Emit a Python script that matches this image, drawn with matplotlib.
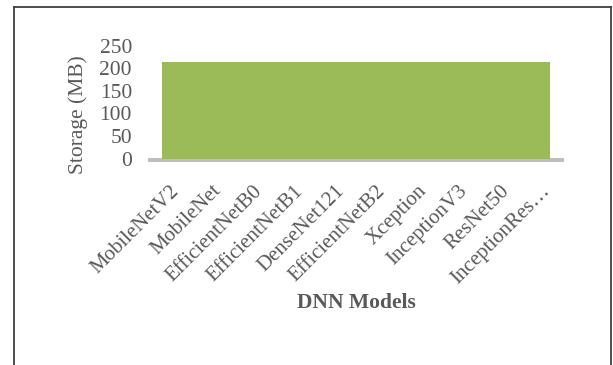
import matplotlib
matplotlib.use("Agg")
import matplotlib.pyplot as plt
import numpy as np
from matplotlib.lines import Line2D

# Model names on the category axis and their storage footprint (MB)
models = ["MobileNetV2", "MobileNet", "EfficientNetB0", "EfficientNetB1",
          "DenseNet121", "EfficientNetB2", "Xception", "InceptionV3",
          "ResNet50", "InceptionRes…"]
storage_mb = [213, 213, 213, 213, 213, 213, 213, 213, 213, 213]
y_ticks = [0, 50, 100, 150, 200, 250]

W, H = 613, 365
plt.rcParams["font.family"] = ["Liberation Serif", "DejaVu Serif"]
text_color = "#595959"
bar_color = "#9BBB59"
fs = 15.5

fig = plt.figure(figsize=(W / 100, H / 100), dpi=100)
fig.patch.set_facecolor("white")

# plot area in pixel terms
left, right = 150, 562
y_zero, y_top = 158.5, 45.5
ax = fig.add_axes([left / W, (H - y_zero) / H, (right - left) / W, (y_zero - y_top) / H])

n = len(models)
pos = np.arange(n)
ax.bar(pos, storage_mb, width=1.0, color=bar_color, linewidth=0, zorder=2)
ax.set_xlim(-0.8, n - 1 + 0.8)
ax.set_ylim(0, 250)

# spines first: repositioning a spine resets the axis ticks
for s in ("top", "right", "left"):
    ax.spines[s].set_visible(False)
ax.spines["bottom"].set_position(("outward", 1.4))
ax.spines["bottom"].set_color("#BFBFBF")
ax.spines["bottom"].set_linewidth(2.9)
ax.spines["bottom"].set_zorder(1)

ax.tick_params(axis="both", length=0)
ax.tick_params(axis="x", pad=20)
ax.tick_params(axis="y", pad=13)

# category labels spread evenly across the axis length,
# nudged a few pixels right so the rotated text ends past the slot centre
lo, hi = ax.get_xlim()
units_per_px = (hi - lo) / (right - left)
tick_pos = lo + (np.arange(n) + 0.5) * (hi - lo) / n + 6 * units_per_px
ax.set_xticks(tick_pos)
ax.set_xticklabels(models, fontsize=15, color=text_color, rotation=45,
                   ha="right", va="center", rotation_mode="anchor")
ax.set_yticks(y_ticks)
ax.set_yticklabels([str(v) for v in y_ticks], fontsize=fs, color=text_color)

ax.set_ylabel("Storage (MB)", fontsize=fs, color=text_color)
ax.yaxis.set_label_coords((88 - left) / (right - left), 0.39)
ax.set_xlabel("DNN Models", fontsize=fs, fontweight="bold", color=text_color)
ax.xaxis.set_label_coords(0.5, (y_zero - 293) / (y_zero - y_top))

# chart frame (open at the bottom)
frame_kw = dict(color="#404040", linewidth=1.3, transform=fig.transFigure)
fx0, fx1, fy1 = 13.5 / W, 610.5 / W, 1 - 6.5 / H
fig.add_artist(Line2D([fx0, fx0], [0, fy1], **frame_kw))
fig.add_artist(Line2D([fx1, fx1], [0, fy1], **frame_kw))
fig.add_artist(Line2D([fx0, fx1], [fy1, fy1], **frame_kw))

fig.savefig("out.png", dpi=100)
